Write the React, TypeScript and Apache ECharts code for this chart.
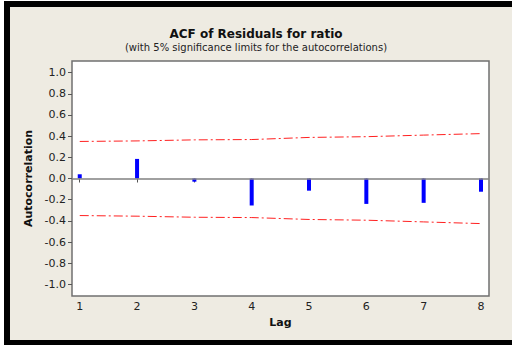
import React, { useEffect, useRef } from "react";
import * as echarts from "echarts";

const lags = [1, 2, 3, 4, 5, 6, 7, 8];
const acf = [0.04, 0.185, -0.03, -0.255, -0.115, -0.24, -0.23, -0.125];
const upperLimit = [0.35, 0.355, 0.365, 0.368, 0.388, 0.395, 0.41, 0.424];
const lowerLimit = [-0.35, -0.356, -0.366, -0.369, -0.387, -0.394, -0.41, -0.426];
const yTicks = [-1.0, -0.8, -0.6, -0.4, -0.2, 0.0, 0.2, 0.4, 0.6, 0.8, 1.0];

const FONT = "DejaVu Sans";

export default function App() {
  const ref = useRef<HTMLDivElement>(null);
  useEffect(() => {
    if (!ref.current) return;
    const chart = echarts.init(ref.current, null, { renderer: "svg" });
    chart.setOption({
      animation: false,
      backgroundColor: "#EEEBE2",
      title: {
        text: "ACF of Residuals for ratio",
        subtext: "(with 5% significance limits for the autocorrelations)",
        left: "center",
        top: 23,
        itemGap: 2,
        textStyle: { fontFamily: FONT, fontSize: 12, fontWeight: "bold", color: "#111" },
        subtextStyle: { fontFamily: FONT, fontSize: 10, color: "#222" },
      },
      graphic: [
        { type: "rect", shape: { x: 4, y: 1, width: 6, height: 344 }, style: { fill: "#000" } },
        { type: "rect", shape: { x: 4, y: 1, width: 508, height: 6 }, style: { fill: "#000" } },
        { type: "rect", shape: { x: 4, y: 340, width: 508, height: 5 }, style: { fill: "#000" } },
        { type: "rect", shape: { x: 0, y: 0, width: 4, height: 345 }, style: { fill: "#fff" } },
        { type: "rect", shape: { x: 0, y: 0, width: 512, height: 1 }, style: { fill: "#fff" } },
      ],
      grid: {
        left: 72,
        top: 61,
        right: 23,
        bottom: 49,
        show: true,
        backgroundColor: "#fff",
        borderColor: "#707070",
        borderWidth: 1.5,
      },
      xAxis: {
        type: "value",
        min: 0.865,
        max: 8.14,
        name: "Lag",
        nameLocation: "middle",
        nameGap: 21,
        nameTextStyle: { fontFamily: FONT, fontSize: 11, fontWeight: "bold", color: "#111" },
        axisLine: { show: false },
        axisTick: { show: true, length: 4, customValues: lags, lineStyle: { color: "#555" } },
        axisLabel: {
          customValues: lags,
          fontFamily: FONT,
          fontSize: 11,
          color: "#222",
          margin: 5,
        },
        splitLine: { show: false },
      },
      yAxis: {
        type: "value",
        min: -1.11,
        max: 1.11,
        name: "Autocorrelation",
        nameLocation: "middle",
        nameRotate: 90,
        nameGap: 34,
        nameTextStyle: { fontFamily: FONT, fontSize: 11, fontWeight: "bold", color: "#111" },
        axisLine: { show: false },
        axisTick: { show: true, length: 4, customValues: yTicks, lineStyle: { color: "#555" } },
        axisLabel: {
          customValues: yTicks,
          formatter: (v: number) => v.toFixed(1),
          fontFamily: FONT,
          fontSize: 11,
          color: "#222",
          margin: 6,
        },
        splitLine: { show: false },
      },
      series: [
        {
          type: "bar",
          data: lags.map((l, i) => [l, acf[i]]),
          barWidth: 4,
          itemStyle: { color: "#0000FF" },
          markLine: {
            silent: true,
            symbol: "none",
            label: { show: false },
            lineStyle: { color: "#808080", type: "solid", width: 1.5 },
            data: [{ yAxis: 0 }],
          },
        },
        {
          type: "line",
          data: lags.map((l, i) => [l, upperLimit[i]]),
          symbol: "none",
          lineStyle: { color: "#ff2020", width: 1, type: [9, 3, 2, 3] },
        },
        {
          type: "line",
          data: lags.map((l, i) => [l, lowerLimit[i]]),
          symbol: "none",
          lineStyle: { color: "#ff2020", width: 1, type: [9, 3, 2, 3] },
        },
      ],
    });
    return () => chart.dispose();
  }, []);
  return (
    <div
      ref={ref}
      style={{ position: "fixed", left: 0, top: 0, width: 512, height: 345 }}
    />
  );
}
